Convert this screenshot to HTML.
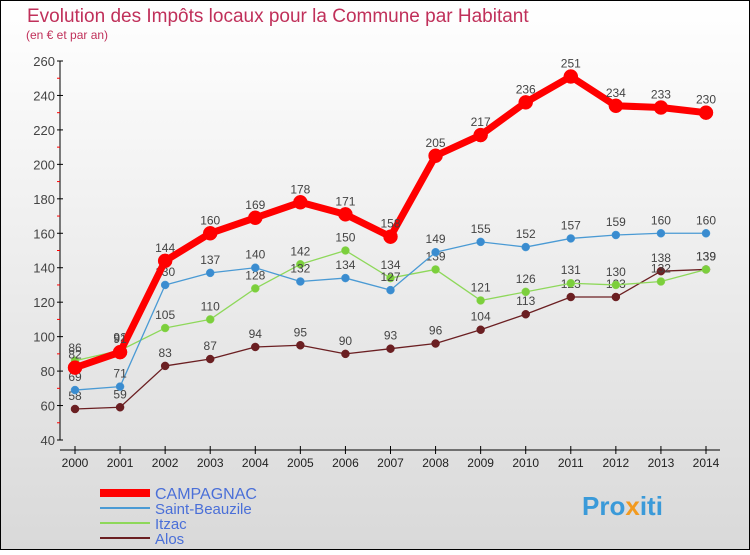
<!DOCTYPE html>
<html><head><meta charset="utf-8"><style>
html,body{margin:0;padding:0}
body{width:750px;height:550px;overflow:hidden;font-family:"Liberation Sans",sans-serif}
</style></head><body>
<svg id="c" width="750" height="550" xmlns="http://www.w3.org/2000/svg">
<defs><linearGradient id="bg" x1="0" y1="0" x2="0" y2="1"><stop offset="0" stop-color="#ffffff"/><stop offset="1" stop-color="#d9d9d9"/></linearGradient></defs>
<rect x="0.5" y="0.5" width="749" height="549" fill="url(#bg)" stroke="#000"/>
<text x="27" y="22" font-size="19" fill="#c0305a">Evolution des Impôts locaux pour la Commune par Habitant</text>
<text x="26" y="39" font-size="12" fill="#c0305a">(en € et par an)</text>
<g id="axes"></g><g id="series"></g><g id="legend"></g>
<text x="582" y="515" font-size="26" font-weight="bold" fill="#3a9ad9">Pro<tspan fill="#f29a1f">x</tspan>iti</text>
</svg>
<script>
const years=[2000,2001,2002,2003,2004,2005,2006,2007,2008,2009,2010,2011,2012,2013,2014];
const yTicks=[40,60,80,100,120,140,160,180,200,220,240,260];
const campagnac=[82,91,144,160,169,178,171,158,205,217,236,251,234,233,230];
const saintBeauzile=[69,71,130,137,140,132,134,127,149,155,152,157,159,160,160];
const itzac=[86,92,105,110,128,142,150,134,139,121,126,131,130,132,139];
const alos=[58,59,83,87,94,95,90,93,96,104,113,123,123,138,139];
const seriesNames=["CAMPAGNAC","Saint-Beauzile","Itzac","Alos"];
const NS="http://www.w3.org/2000/svg";
const X=i=>75+i*(706-75)/14;
const Y=v=>440-(v-40)*(440-61)/220;
function mk(t,a,p){const e=document.createElementNS(NS,t);for(const k in a)e.setAttribute(k,a[k]);(p||document.getElementById('axes')).appendChild(e);return e;}
const ax=document.getElementById('axes');
let yl=mk('line',{x1:60,y1:61,x2:60,y2:440,stroke:'#000'});


let xl=mk('line',{x1:60,y1:450,x2:720,y2:450,stroke:'#000'});


yTicks.forEach((v,i)=>{
 mk('line',{x1:57,y1:Y(v),x2:63,y2:Y(v),stroke:'#000'});
 if(i<yTicks.length-1)mk('line',{x1:57,y1:Y(v+10),x2:60,y2:Y(v+10),stroke:'#f00'});
 const t=mk('text',{x:55,y:Y(v)+5,'text-anchor':'end','font-size':13,fill:'#444'});t.textContent=v;
 
 
});
years.forEach((y,i)=>{
 mk('line',{x1:X(i),y1:446,x2:X(i),y2:454,stroke:'#000'});
 const t=mk('text',{x:X(i),y:467,'text-anchor':'middle','font-size':12,fill:'#222'});t.textContent=y;
 
 
});
const sg=document.getElementById('series');
function draw(d,color,dot,w,r,name){
 const g=mk('g',{},sg);
 
 
 mk('polyline',{points:d.map((v,i)=>X(i)+','+Y(v)).join(' '),fill:'none',stroke:color,'stroke-width':w,'stroke-linejoin':'round'},g);
 d.forEach((v,i)=>{
  const c=mk('circle',{cx:X(i),cy:Y(v),r:r,fill:dot,stroke:color,'stroke-width':0.5},g);
  
  
  const t=mk('text',{x:X(i),y:Y(v)-9,'text-anchor':'middle','font-size':12,fill:'#444'},g);t.textContent=v;
 });
}
draw(alos,'#6b1f22','#6b1f22',1.3,4,'series-alos');
draw(itzac,'#8ed85a','#7ccf3c',1.3,4,'series-itzac');
draw(saintBeauzile,'#4a9ad4','#3a8cd0',1.3,4,'series-saint-beauzile');
draw(campagnac,'#ff0000','#ff0000',7,7,'series-campagnac');
const lg=document.getElementById('legend');
const lc=[['#ff0000',8],['#4a9ad4',2],['#8ed85a',2],['#6b1f22',2]];
seriesNames.forEach((n,i)=>{
 const y=493+i*15;
 const g=mk('g',{},lg);
 
 
 mk('line',{x1:100,y1:y,x2:150,y2:y,stroke:lc[i][0],'stroke-width':lc[i][1]},g);
 const t=mk('text',{x:155,y:y+6,'font-size':i==0?16:15,fill:'#4a6fd8'},g);t.textContent=n;
});
</script>
</body></html>
